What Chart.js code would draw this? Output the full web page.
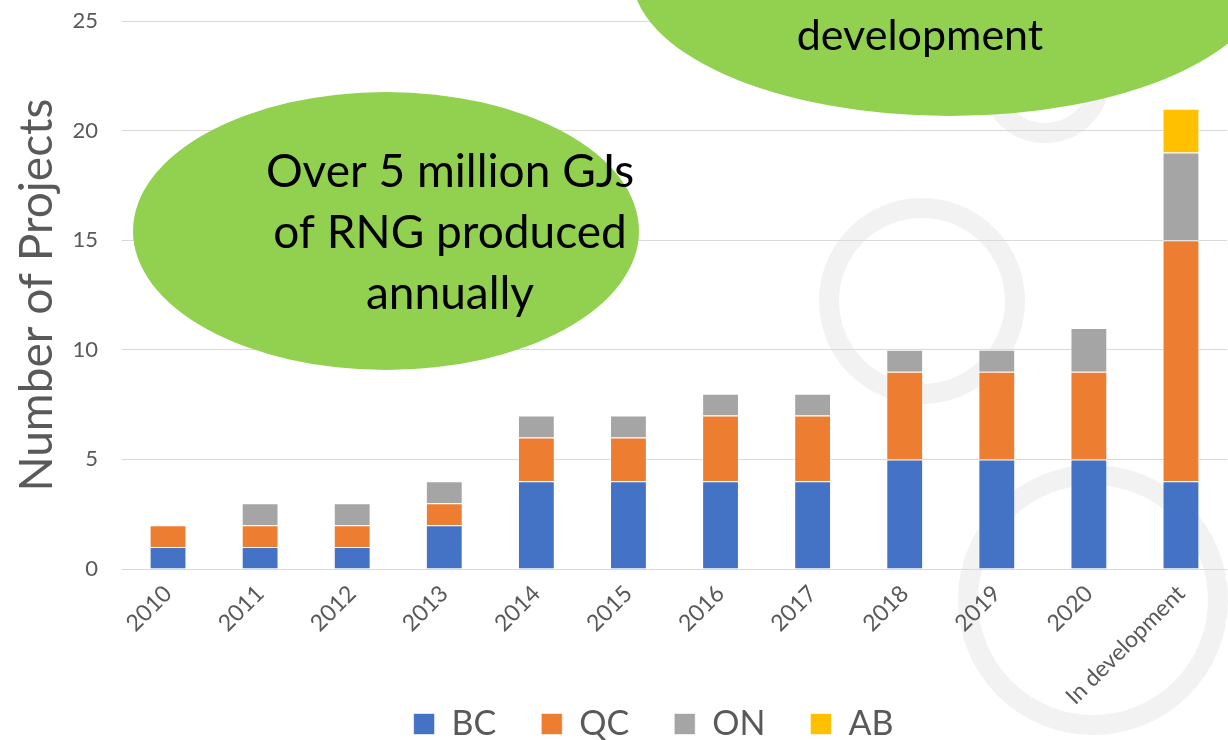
<!DOCTYPE html>
<html>
<head>
<meta charset="utf-8">
<script src="https://cdn.jsdelivr.net/npm/chart.js@4/dist/chart.umd.min.js"></script>
<style>
  body { margin: 0; background: #fff; }
  #wrap { width: 1228px; height: 740px; }
</style>
</head>
<body>
<div id="wrap"><canvas id="chart" width="1228" height="740"></canvas></div>
<script>
const years = ['2010', '2011', '2012', '2013', '2014', '2015', '2016', '2017', '2018', '2019', '2020', 'In development'];
const bc = [1, 1, 1, 2, 4, 4, 4, 4, 5, 5, 5, 4];
const qc = [1, 1, 1, 1, 2, 2, 3, 3, 4, 4, 4, 11];
const on = [0, 1, 1, 1, 1, 1, 1, 1, 1, 1, 2, 4];
const ab = [0, 0, 0, 0, 0, 0, 0, 0, 0, 0, 0, 2];
const bubbleText = ['Over 5 million GJs', 'of RNG produced', 'annually'];
const topBubbleText = ['development'];

const FONT = 'Lato, "Open Sans", sans-serif';
const GREY = '#595959';

// light rings in the background (behind grid)
const rings = {
  id: 'rings',
  beforeDraw(chart) {
    const c = chart.ctx;
    c.save();
    c.strokeStyle = '#F2F2F2';
    c.lineWidth = 20;
    [[922, 301, 93], [1093, 600, 125], [1045, 78, 55]].forEach(r => {
      c.beginPath();
      c.arc(r[0], r[1], r[2], 0, Math.PI * 2);
      c.stroke();
    });
    c.restore();
  }
};

// green callout ellipses on top of grid
const bubbles = {
  id: 'bubbles',
  beforeDatasetsDraw(chart) {
    const c = chart.ctx;
    c.save();
    c.fillStyle = '#92D050';
    c.beginPath();
    c.ellipse(386, 231, 253, 139, 0, 0, Math.PI * 2);
    c.fill();
    c.beginPath();
    c.ellipse(950, -25, 318, 141, 0, 0, Math.PI * 2);
    c.fill();
    c.fillStyle = '#000';
    c.textAlign = 'center';
    c.textBaseline = 'middle';
    c.font = '46px ' + FONT;
    bubbleText.forEach((t, i) => c.fillText(t, 450, 172 + i * 61));
    c.font = '43px ' + FONT;
    topBubbleText.forEach((t, i) => c.fillText(t, 920, 36 + i * 61));
    c.restore();
  }
};

// let the rotated x labels run down into the legend strip, nudge legend right
const tweakLayout = {
  id: 'tweakLayout',
  afterLayout(chart) {
    chart.scales.x.bottom = chart.height;
    chart.legend.left += 40;
    chart.legend.right += 40;
  }
};

const ctx = document.getElementById('chart').getContext('2d');
const mk = (label, data, color) => ({
  label, data,
  backgroundColor: color,
  borderColor: 'rgba(255,255,255,0.6)',
  borderWidth: 1,
  categoryPercentage: 1,
  barPercentage: 0.4
});

new Chart(ctx, {
  type: 'bar',
  data: {
    labels: years,
    datasets: [
      mk('BC', bc, '#4472C4'),
      mk('QC', qc, '#ED7D31'),
      mk('ON', on, '#A5A5A5'),
      mk('AB', ab, '#FFC000')
    ]
  },
  options: {
    responsive: false,
    animation: false,
    layout: { padding: { top: 21, right: 1, left: 0, bottom: -11 } },
    plugins: {
      tooltip: { enabled: false },
      legend: {
        position: 'bottom',
        labels: {
          font: { family: FONT, size: 34 },
          color: GREY,
          boxWidth: 21,
          boxHeight: 21,
          padding: 45
        }
      }
    },
    scales: {
      x: {
        stacked: true,
        grid: { display: false },
        border: { display: false },
        afterFit: s => { s.height = 93; },
        ticks: {
          font: { family: FONT, size: 23 },
          color: GREY,
          minRotation: 45,
          maxRotation: 45,
          autoSkip: false
        }
      },
      y: {
        stacked: true,
        min: 0,
        max: 25,
        afterFit: s => { s.width = 122; },
        grid: { color: '#D9D9D9', lineWidth: 1, drawTicks: true, tickLength: 24, tickColor: 'rgba(0,0,0,0)' },
        border: { display: false },
        ticks: {
          stepSize: 5,
          font: { family: FONT, size: 22 },
          color: GREY,
          padding: 0
        },
        title: {
          display: true,
          text: 'Number of Projects',
          font: { family: FONT, size: 46 },
          color: GREY,
          padding: { top: 10, bottom: 0 }
        }
      }
    }
  },
  plugins: [rings, bubbles, tweakLayout]
});
</script>
</body>
</html>
